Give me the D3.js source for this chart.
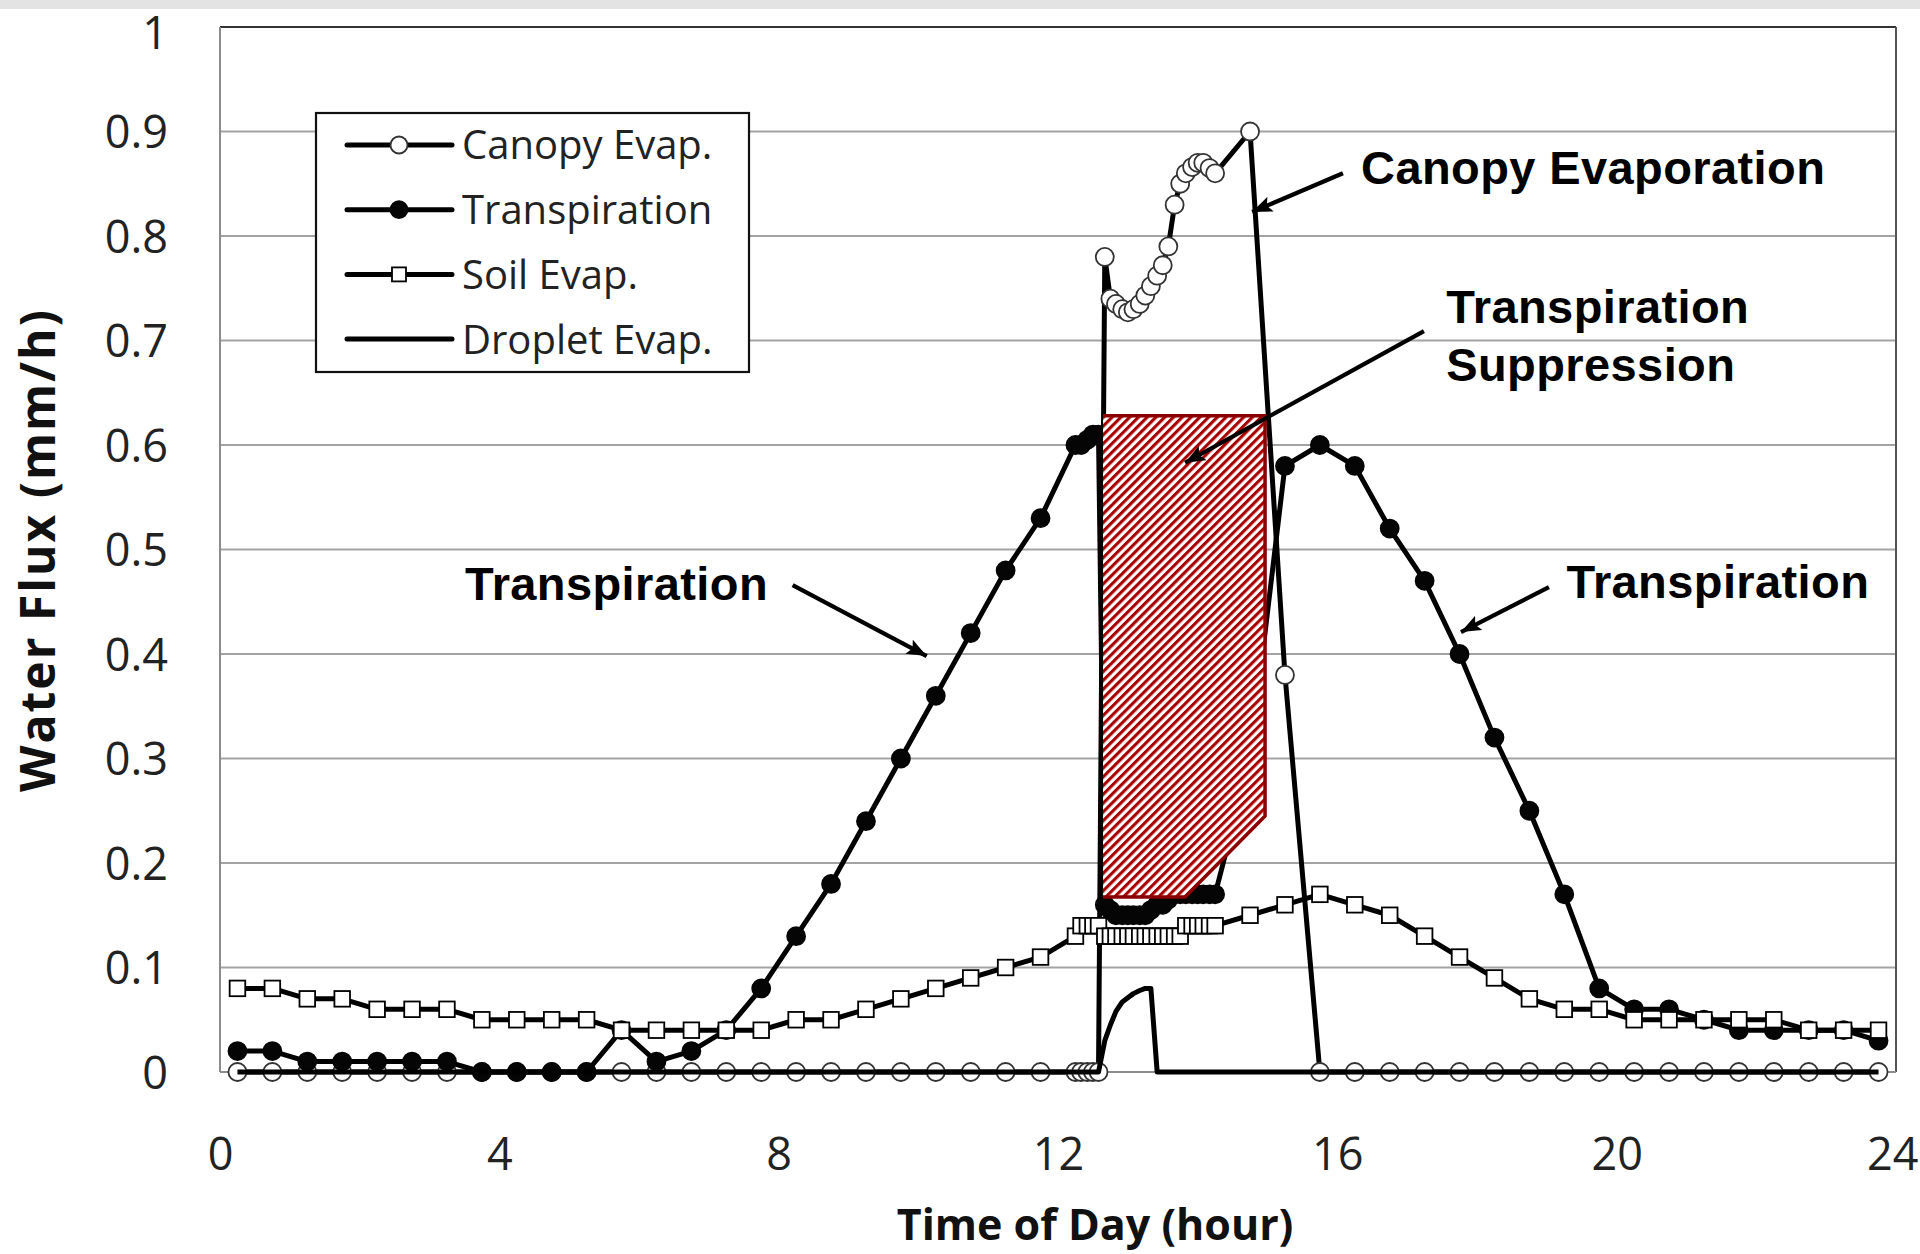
<!DOCTYPE html>
<html>
<head>
<meta charset="utf-8">
<script src="https://cdn.jsdelivr.net/npm/d3@7"></script>
<style>
  html, body { margin: 0; padding: 0; background: #fff; }
  svg { display: block; }
</style>
</head>
<body>
<svg id="chart" width="1920" height="1254"></svg>
<script>
// time of day (hour); 30-min steps, 5-min steps during the wet canopy period
const hours = [
  0.25, 0.75, 1.25, 1.75, 2.25, 2.75, 3.25, 3.75, 4.25, 4.75, 5.25, 5.75,
  6.25, 6.75, 7.25, 7.75, 8.25, 8.75, 9.25, 9.75, 10.25, 10.75, 11.25, 11.75,
  12.25, 12.33, 12.42, 12.5, 12.58, 12.67, 12.75, 12.83, 12.92, 13, 13.08, 13.17,
  13.25, 13.33, 13.42, 13.5, 13.58, 13.67, 13.75, 13.83, 13.92, 14, 14.08, 14.17, 14.25,
  14.75, 15.25, 15.75, 16.25, 16.75, 17.25, 17.75, 18.25, 18.75, 19.25, 19.75,
  20.25, 20.75, 21.25, 21.75, 22.25, 22.75, 23.25, 23.75
];

const canopyEvap = [
  0, 0, 0, 0, 0, 0, 0, 0, 0, 0, 0, 0,
  0, 0, 0, 0, 0, 0, 0, 0, 0, 0, 0, 0,
  0, 0, 0, 0, 0, 0.78, 0.74, 0.735, 0.73, 0.727, 0.73, 0.735,
  0.743, 0.752, 0.762, 0.772, 0.79, 0.83, 0.85, 0.86, 0.866, 0.87, 0.87, 0.865, 0.86,
  0.9, 0.38, 0, 0, 0, 0, 0, 0, 0, 0, 0,
  0, 0, 0, 0, 0, 0, 0, 0
];

const transpiration = [
  0.02, 0.02, 0.01, 0.01, 0.01, 0.01, 0.01, 0, 0, 0, 0, 0.04,
  0.01, 0.02, 0.04, 0.08, 0.13, 0.18, 0.24, 0.30, 0.36, 0.42, 0.48, 0.53,
  0.60, 0.60, 0.605, 0.61, 0.61, 0.16, 0.155, 0.15, 0.15, 0.15, 0.15, 0.15,
  0.15, 0.155, 0.16, 0.16, 0.165, 0.17, 0.17, 0.17, 0.17, 0.17, 0.17, 0.17, 0.17,
  0.30, 0.58, 0.60, 0.58, 0.52, 0.47, 0.40, 0.32, 0.25, 0.17, 0.08,
  0.06, 0.06, 0.05, 0.04, 0.04, 0.04, 0.04, 0.03
];

const soilEvap = [
  0.08, 0.08, 0.07, 0.07, 0.06, 0.06, 0.06, 0.05, 0.05, 0.05, 0.05, 0.04,
  0.04, 0.04, 0.04, 0.04, 0.05, 0.05, 0.06, 0.07, 0.08, 0.09, 0.10, 0.11,
  0.13, 0.14, 0.14, 0.14, 0.14, 0.13, 0.13, 0.13, 0.13, 0.13, 0.13, 0.13,
  0.13, 0.13, 0.13, 0.13, 0.13, 0.13, 0.13, 0.14, 0.14, 0.14, 0.14, 0.14, 0.14,
  0.15, 0.16, 0.17, 0.16, 0.15, 0.13, 0.11, 0.09, 0.07, 0.06, 0.06,
  0.05, 0.05, 0.05, 0.05, 0.05, 0.04, 0.04, 0.04
];

const dropletEvap = [
  0, 0, 0, 0, 0, 0, 0, 0, 0, 0, 0, 0,
  0, 0, 0, 0, 0, 0, 0, 0, 0, 0, 0, 0,
  0, 0, 0, 0, 0, 0.03, 0.045, 0.058, 0.067, 0.071, 0.075, 0.078,
  0.08, 0.08, 0, 0, 0, 0, 0, 0, 0, 0, 0, 0, 0,
  0, 0, 0, 0, 0, 0, 0, 0, 0, 0, 0,
  0, 0, 0, 0, 0, 0, 0, 0
];

const xTicks = [0, 4, 8, 12, 16, 20, 24];
const yTicks = [0, 0.1, 0.2, 0.3, 0.4, 0.5, 0.6, 0.7, 0.8, 0.9, 1];
const legendLabels = ["Canopy Evap.", "Transpiration", "Soil Evap.", "Droplet Evap."];

// outline of the hatched "transpiration suppression" area (hour, flux)
const suppressionHours = [12.645, 14.965, 14.965, 13.82, 12.645];
const suppressionFlux  = [0.628, 0.628, 0.245, 0.1675, 0.1675];

// callout labels and arrows, in (hour, flux)
const calloutLabels = ["Canopy Evaporation", "Transpiration", "Suppression", "Transpiration", "Transpiration"];
const calloutHours  = [16.34, 17.56, 17.56, 3.51, 19.28];
const calloutFlux   = [0.850, 0.717, 0.661, 0.452, 0.454];
const arrowFrom = [[16.08, 0.860], [17.24, 0.709], [8.20, 0.466], [19.03, 0.464]];
const arrowTo   = [[14.78, 0.823], [13.82, 0.583], [10.12, 0.398], [17.77, 0.421]];

const margin = { top: 27, right: 24, bottom: 182, left: 220 },
    width = 1920 - margin.left - margin.right,
    height = 1254 - margin.top - margin.bottom;

const tickFont = '"Open Sans", "DejaVu Sans", sans-serif';
const noteFont = '"Liberation Sans", Arial, sans-serif';

const svg = d3.select("#chart");

// faint scanned strip along the top edge
svg.append("rect").attr("x", 0).attr("y", 0).attr("width", 1920).attr("height", 9)
    .attr("fill", "#e3e3e3");

const defs = svg.append("defs");
const hatch = defs.append("pattern")
    .attr("id", "hatch")
    .attr("patternUnits", "userSpaceOnUse")
    .attr("width", 6.2).attr("height", 6.2)
    .attr("patternTransform", "rotate(45)");
hatch.append("rect").attr("width", 6.2).attr("height", 6.2).attr("fill", "#fff");
hatch.append("rect").attr("width", 3.1).attr("height", 6.2).attr("fill", "#a80000");

defs.append("marker")
    .attr("id", "arrowhead")
    .attr("markerUnits", "userSpaceOnUse")
    .attr("markerWidth", 22).attr("markerHeight", 16)
    .attr("refX", 20).attr("refY", 8)
    .attr("orient", "auto")
    .append("path")
    .attr("d", "M0,0 L20,8 L0,16 L4,8 Z")
    .attr("fill", "#000");

const g = svg.append("g")
    .attr("transform", "translate(" + margin.left + "," + margin.top + ")");

const x = d3.scaleLinear().domain([0, 24]).range([0, width]);
const y = d3.scaleLinear().domain([0, 1]).range([height, 0]);

// gridlines
g.append("g")
    .selectAll("line")
    .data(yTicks.filter(v => v > 0 && v < 1))
    .enter().append("line")
    .attr("x1", 0).attr("x2", width)
    .attr("y1", d => y(d)).attr("y2", d => y(d))
    .attr("stroke", "#a3a3a3")
    .attr("stroke-width", 2.2);

// plot frame
g.append("line").attr("x1", 0).attr("x2", width).attr("y1", 0).attr("y2", 0)
    .attr("stroke", "#333").attr("stroke-width", 2.2);
g.append("line").attr("x1", 0).attr("x2", 0).attr("y1", 0).attr("y2", height)
    .attr("stroke", "#8c8c8c").attr("stroke-width", 2);
g.append("line").attr("x1", width).attr("x2", width).attr("y1", 0).attr("y2", height)
    .attr("stroke", "#555").attr("stroke-width", 2);
g.append("line").attr("x1", 0).attr("x2", width).attr("y1", height).attr("y2", height)
    .attr("stroke", "#8c8c8c").attr("stroke-width", 2);

// axes
const yAxis = g.append("g")
    .call(d3.axisLeft(y).tickValues(yTicks).tickSize(0).tickPadding(52).tickFormat(d3.format("~g")));
yAxis.select(".domain").remove();
yAxis.selectAll("text")
    .attr("font-family", tickFont).attr("font-size", 45).attr("fill", "#222")
    .attr("dy", "0.36em");
// top label touches the page edge: nudge it down a little
yAxis.selectAll(".tick").filter(d => d === 1).select("text").attr("y", 5);

const xAxis = g.append("g")
    .attr("transform", "translate(0," + height + ")")
    .call(d3.axisBottom(x).tickValues(xTicks).tickSize(0).tickPadding(66).tickFormat(d3.format("d")));
xAxis.select(".domain").remove();
xAxis.selectAll("text")
    .attr("font-family", tickFont).attr("font-size", 45).attr("fill", "#222")
    .attr("dy", "0.72em");
// the last label sits at the page edge: keep it inside
xAxis.selectAll(".tick").filter(d => d === 24).select("text")
    .attr("text-anchor", "end").attr("x", 22);

// axis titles
svg.append("text")
    .attr("transform", "translate(" + 55 + "," + 550 + ") rotate(-90)")
    .attr("text-anchor", "middle")
    .attr("font-family", tickFont).attr("font-weight", 700).attr("font-size", 48)
    .attr("letter-spacing", 2)
    .attr("fill", "#111")
    .text("Water Flux (mm/h)");

svg.append("text")
    .attr("x", margin.left + x(12.53)).attr("y", 1240)
    .attr("text-anchor", "middle")
    .attr("font-family", tickFont).attr("font-weight", 700).attr("font-size", 43)
    .attr("fill", "#111")
    .text("Time of Day (hour)");

// series
const pts = vals => hours.map((h, i) => ({ h: h, v: vals[i] }));
const line = d3.line().x(d => x(d.h)).y(d => y(d.v));

function drawLine(vals) {
    g.append("path")
        .datum(pts(vals))
        .attr("fill", "none")
        .attr("stroke", "#000")
        .attr("stroke-width", 5)
        .attr("stroke-linejoin", "round")
        .attr("d", line);
}

function drawCircles(vals, fill, stroke) {
    g.append("g").selectAll("circle")
        .data(pts(vals))
        .enter().append("circle")
        .attr("cx", d => x(d.h))
        .attr("cy", d => y(d.v))
        .attr("r", 9)
        .attr("fill", fill)
        .attr("stroke", stroke)
        .attr("stroke-width", 1.8);
}

function drawSquares(vals) {
    g.append("g").selectAll("rect")
        .data(pts(vals))
        .enter().append("rect")
        .attr("x", d => x(d.h) - 7.8)
        .attr("y", d => y(d.v) - 7.8)
        .attr("width", 15.6).attr("height", 15.6)
        .attr("fill", "#fff")
        .attr("stroke", "#000")
        .attr("stroke-width", 1.8);
}

drawLine(canopyEvap);
drawCircles(canopyEvap, "#fff", "#333");
drawLine(transpiration);
drawCircles(transpiration, "#050505", "#050505");
drawLine(soilEvap);
drawSquares(soilEvap);
drawLine(dropletEvap);

// hatched suppression area
g.append("path")
    .datum(suppressionHours.map((h, i) => ({ h: h, v: suppressionFlux[i] })))
    .attr("d", d3.line().x(d => x(d.h)).y(d => y(d.v)))
    .attr("fill", "url(#hatch)")
    .attr("stroke", "#8b0000")
    .attr("stroke-width", 3.5)
    .attr("stroke-linejoin", "miter");

// callouts
arrowFrom.forEach((p, i) => {
    g.append("line")
        .attr("x1", x(p[0])).attr("y1", y(p[1]))
        .attr("x2", x(arrowTo[i][0])).attr("y2", y(arrowTo[i][1]))
        .attr("stroke", "#000").attr("stroke-width", 4.2)
        .attr("marker-end", "url(#arrowhead)");
});

g.append("g").selectAll("text")
    .data(calloutLabels)
    .enter().append("text")
    .attr("x", (d, i) => x(calloutHours[i]))
    .attr("y", (d, i) => y(calloutFlux[i]))
    .attr("font-family", noteFont).attr("font-weight", 700).attr("font-size", 47)
    .attr("letter-spacing", 0.4)
    .attr("fill", "#000")
    .text(d => d);

// legend
const legend = svg.append("g").attr("transform", "translate(316,113)");
legend.append("rect")
    .attr("width", 433).attr("height", 259)
    .attr("fill", "#fff").attr("stroke", "#111").attr("stroke-width", 2.2);

legendLabels.forEach((label, i) => {
    const ly = 32 + i * 64.7;
    const row = legend.append("g").attr("transform", "translate(0," + ly + ")");
    row.append("line").attr("x1", 31).attr("x2", 136).attr("y1", 0).attr("y2", 0)
        .attr("stroke", "#000").attr("stroke-width", 5).attr("stroke-linecap", "round");
    if (i === 0 || i === 1) {
        row.append("circle").attr("cx", 83).attr("cy", 0).attr("r", 8.5)
            .attr("fill", i === 0 ? "#fff" : "#050505")
            .attr("stroke", i === 0 ? "#333" : "#050505").attr("stroke-width", 1.8);
    } else if (i === 2) {
        row.append("rect").attr("x", 83 - 7).attr("y", -7).attr("width", 14).attr("height", 14)
            .attr("fill", "#fff").attr("stroke", "#000").attr("stroke-width", 1.8);
    }
    row.append("text")
        .attr("x", 146).attr("y", 0).attr("dy", "0.36em")
        .attr("font-family", tickFont).attr("font-size", 40).attr("fill", "#222")
        .text(label);
});
</script>
</body>
</html>
